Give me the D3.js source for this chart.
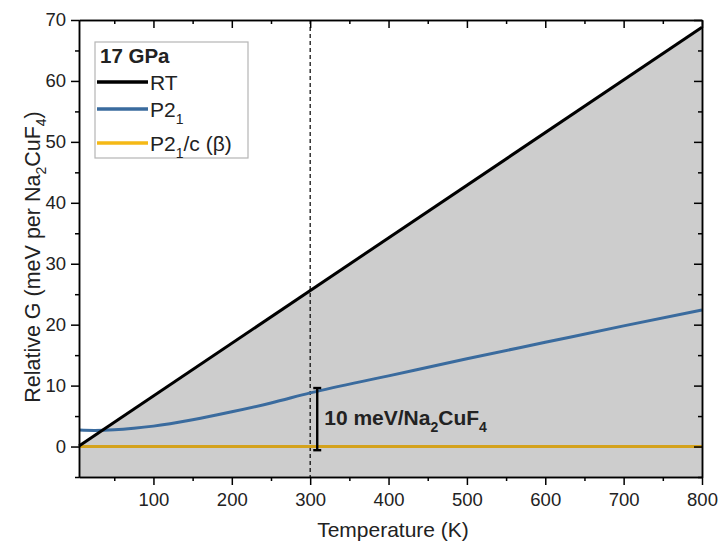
<!DOCTYPE html>
<html>
<head>
<meta charset="utf-8">
<script src="https://cdn.jsdelivr.net/npm/d3@7"></script>
<style>
  body { margin: 0; background: #fff; }
  text { font-family: "Liberation Sans", Arial, sans-serif; fill: #222; }
</style>
</head>
<body>
<div id="chart"></div>
<script>
// data
const rtT = [5, 800];
const rtG = [0.1, 68.8];
const p21T = [5, 25, 50, 75, 100, 150, 200, 250, 300, 400, 500, 600, 700, 800];
const p21G = [2.7, 2.65, 2.75, 3.0, 3.35, 4.4, 5.7, 7.15, 8.8, 11.6, 14.4, 17.1, 19.8, 22.4];
const betaT = [5, 800];
const betaG = [0, 0];
const xTicks = [100, 200, 300, 400, 500, 600, 700, 800];
const yTicks = [0, 10, 20, 30, 40, 50, 60, 70];

const margin = { top: 20, right: 18, bottom: 69, left: 79 },
    width = 720 - margin.left - margin.right,
    height = 546 - margin.top - margin.bottom;

const svg = d3.select("#chart")
    .append("svg")
    .attr("width", 720)
    .attr("height", 546);

const g = svg.append("g")
    .attr("transform", `translate(${margin.left},${margin.top})`);

const x = d3.scaleLinear().domain([5, 800]).range([0, width]);
const y = d3.scaleLinear().domain([-5, 70]).range([height, 0]);

const rt = rtT.map((t, i) => [t, rtG[i]]);
const p21 = p21T.map((t, i) => [t, p21G[i]]);
const beta = betaT.map((t, i) => [t, betaG[i]]);

// grey fill under RT line
g.append("path")
    .datum(rt)
    .attr("fill", "#cdcdcd")
    .attr("d", d3.area().x(d => x(d[0])).y0(height).y1(d => y(d[1])));

// dashed line at 300 K
g.append("line")
    .attr("x1", x(300)).attr("x2", x(300))
    .attr("y1", 0).attr("y2", height)
    .attr("stroke", "#000").attr("stroke-width", 1.2)
    .attr("stroke-dasharray", "4,3");

const line = d3.line().x(d => x(d[0])).y(d => y(d[1])).curve(d3.curveMonotoneX);

g.append("path").datum(beta)
    .attr("fill", "none").attr("stroke", "#d4a21c").attr("stroke-width", 3)
    .attr("d", line);
g.append("path").datum(p21)
    .attr("fill", "none").attr("stroke", "#3a6b9e").attr("stroke-width", 3)
    .attr("d", line);
g.append("path").datum(rt)
    .attr("fill", "none").attr("stroke", "#000").attr("stroke-width", 3)
    .attr("d", line);

// scale bar
const bx = x(309);
const bar = g.append("g").attr("stroke", "#000").attr("stroke-width", 2.4);
bar.append("line").attr("x1", bx).attr("x2", bx).attr("y1", y(9.6)).attr("y2", y(-0.6));
bar.append("line").attr("x1", bx - 4).attr("x2", bx + 4).attr("y1", y(9.6)).attr("y2", y(9.6));
bar.append("line").attr("x1", bx - 4).attr("x2", bx + 4).attr("y1", y(-0.6)).attr("y2", y(-0.6));

const lab = g.append("text")
    .attr("x", bx + 7).attr("y", 425 - margin.top)
    .attr("font-size", 21).attr("font-weight", "bold").attr("fill", "#000");
lab.append("tspan").text("10 meV/Na");
lab.append("tspan").attr("font-size", 14).attr("dy", 7).text("2");
lab.append("tspan").attr("dy", -7).text("CuF");
lab.append("tspan").attr("font-size", 14).attr("dy", 7).text("4");

// axes
const xMinor = d3.range(50, 801, 50).filter(v => v % 100 !== 0);
const yMinor = d3.range(-5, 70, 10);

function styleAxis(sel) {
    sel.select(".domain").attr("stroke", "#000").attr("stroke-width", 1.5);
    sel.selectAll(".tick line").attr("stroke", "#000").attr("stroke-width", 1.5);
    sel.selectAll(".tick text").attr("font-size", 18.5).attr("fill", "#222")
        .style("font-family", "'Liberation Sans', Arial, sans-serif");
}

g.append("g").attr("transform", `translate(0,${height})`)
    .call(d3.axisBottom(x).tickValues(xTicks).tickSize(8).tickPadding(8).tickSizeOuter(0))
    .call(styleAxis);
g.append("g").attr("transform", `translate(0,${height})`)
    .call(d3.axisBottom(x).tickValues(xMinor).tickSize(4).tickFormat("").tickSizeOuter(0))
    .call(styleAxis);

g.append("g")
    .call(d3.axisLeft(y).tickValues(yTicks).tickSize(8).tickPadding(5).tickSizeOuter(0))
    .call(styleAxis);
g.append("g")
    .call(d3.axisLeft(y).tickValues(yMinor).tickSize(4).tickFormat("").tickSizeOuter(0))
    .call(styleAxis);

// mirrored top and right axes, ticks pointing down / left
g.append("g")
    .call(d3.axisBottom(x).tickValues(xTicks).tickSize(8).tickFormat("").tickSizeOuter(0))
    .call(styleAxis);
g.append("g")
    .call(d3.axisBottom(x).tickValues(xMinor).tickSize(4).tickFormat("").tickSizeOuter(0))
    .call(styleAxis);
g.append("g").attr("transform", `translate(${width},0)`)
    .call(d3.axisLeft(y).tickValues(yTicks).tickSize(8).tickFormat("").tickSizeOuter(0))
    .call(styleAxis);
g.append("g").attr("transform", `translate(${width},0)`)
    .call(d3.axisLeft(y).tickValues(yMinor).tickSize(4).tickFormat("").tickSizeOuter(0))
    .call(styleAxis);

// axis titles
svg.append("text")
    .attr("x", 393).attr("y", 537)
    .attr("text-anchor", "middle").attr("font-size", 21)
    .text("Temperature (K)");

const yt = svg.append("text")
    .attr("transform", "translate(40,257) rotate(-90)")
    .attr("text-anchor", "middle").attr("font-size", 21.5);
yt.append("tspan").text("Relative G (meV per Na");
yt.append("tspan").attr("font-size", 14).attr("dy", 6).text("2");
yt.append("tspan").attr("dy", -6).text("CuF");
yt.append("tspan").attr("font-size", 14).attr("dy", 6).text("4");
yt.append("tspan").attr("dy", -6).text(")");

// legend
const legend = svg.append("g").attr("transform", "translate(95,42)");
legend.append("rect")
    .attr("width", 153).attr("height", 116)
    .attr("fill", "#fff").attr("stroke", "#b5b5b5").attr("stroke-width", 1.2);
legend.append("text")
    .attr("x", 5).attr("y", 21)
    .attr("font-size", 20.5).attr("font-weight", "bold").attr("fill", "#000")
    .text("17 GPa");

const legendNames = ["RT", "P2|1", "P2|1|/c (β)"];
const legendColors = ["#000", "#3a6b9e", "#f5b916"];
const legendY = [40, 67, 101];
legendNames.forEach((name, i) => {
    const yy = legendY[i];
    legend.append("line")
        .attr("x1", 2).attr("x2", 53).attr("y1", yy).attr("y2", yy)
        .attr("stroke", legendColors[i]).attr("stroke-width", 3.5);
    const t = legend.append("text").attr("x", 55).attr("y", yy + 8).attr("font-size", 21);
    name.split("|").forEach((part, j) => {
        const sp = t.append("tspan").text(part);
        if (j % 2 === 1) sp.attr("font-size", 14).attr("dy", 7);
        else if (j > 0) sp.attr("dy", -7);
    });
});
</script>
</body>
</html>
